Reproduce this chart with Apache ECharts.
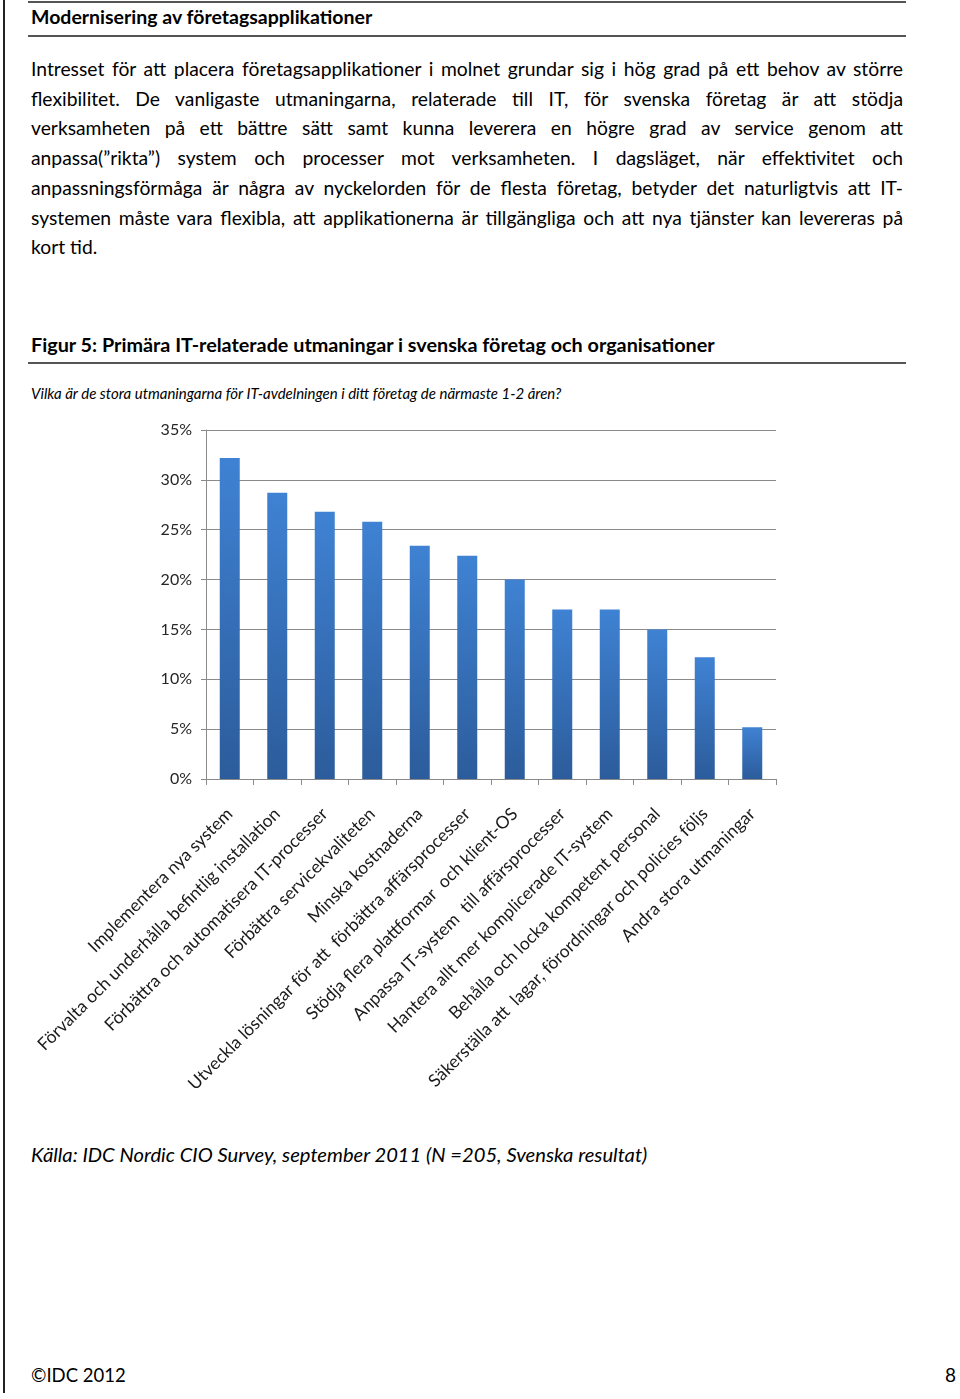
<!DOCTYPE html>
<html>
<head>
<meta charset="utf-8">
<script src="https://cdn.jsdelivr.net/npm/echarts@6/dist/echarts.min.js"></script>
<style>
  html, body { margin: 0; padding: 0; background: #fff; }
  body { width: 960px; height: 1399px; position: relative; overflow: hidden; font-family: Lato, "Open Sans", sans-serif; color: #000; }
  .abs { position: absolute; }
  .rule { position: absolute; left: 28px; width: 878px; height: 2px; background: #555; }
  .vline { position: absolute; left: 3px; top: 0; width: 2px; height: 1393px; background: #222; }
  .title { left: 31px; top: 4px; font-size: 19.5px; font-weight: bold; line-height: 26px; white-space: nowrap; }
  .para { left: 31px; top: 54px; width: 872px; font-size: 19.3px; line-height: 29.7px; }
  .para div { white-space: nowrap; text-align: justify; text-align-last: justify; }
  .para div.last { text-align-last: left; }
  .figtitle { left: 31px; top: 331px; font-size: 19.8px; font-weight: bold; line-height: 26px; white-space: nowrap; }
  .question { left: 31px; top: 383px; font-size: 15px; font-style: italic; line-height: 20px; white-space: nowrap; }
  .source { left: 31px; top: 1141px; font-size: 20.2px; font-style: italic; line-height: 26px; white-space: nowrap; }
  .footer { left: 31px; top: 1362px; font-size: 18.5px; line-height: 26px; white-space: nowrap; }
  .pagenum { left: 945px; top: 1362px; font-size: 19px; line-height: 26px; }
  #chart { position: absolute; left: 0; top: 400px; width: 960px; height: 720px; }
</style>
</head>
<body>
<div class="vline"></div>
<div class="rule" style="top:1px"></div>
<div class="abs title">Modernisering av företagsapplikationer</div>
<div class="rule" style="top:35px"></div>
<div class="abs para">
  <div>Intresset för att placera företagsapplikationer i molnet grundar sig i hög grad på ett behov av större</div>
  <div>flexibilitet. De vanligaste utmaningarna, relaterade till IT, för svenska företag är att stödja</div>
  <div>verksamheten på ett bättre sätt samt kunna leverera en högre grad av service genom att</div>
  <div>anpassa(”rikta”) system och processer mot verksamheten. I dagsläget, när effektivitet och</div>
  <div>anpassningsförmåga är några av nyckelorden för de flesta företag, betyder det naturligtvis att IT-</div>
  <div>systemen måste vara flexibla, att applikationerna är tillgängliga och att nya tjänster kan levereras på</div>
  <div class="last">kort tid.</div>
</div>
<div class="abs figtitle">Figur 5: Primära IT-relaterade utmaningar i svenska företag och organisationer</div>
<div class="rule" style="top:362px"></div>
<div class="abs question">Vilka är de stora utmaningarna för IT-avdelningen i ditt företag de närmaste 1-2 åren?</div>
<div id="chart"></div>
<div class="abs source">Källa: IDC Nordic CIO Survey, september 2011 (N =205, Svenska resultat)</div>
<div class="abs footer">©IDC 2012</div>
<div class="abs pagenum">8</div>
<script>
const categories = [
  "Implementera nya system",
  "Förvalta och underhålla befintlig installation",
  "Förbättra och automatisera IT-processer",
  "Förbättra servicekvaliteten",
  "Minska kostnaderna",
  "Utveckla lösningar för att  förbättra affärsprocesser",
  "Stödja flera plattformar  och klient-OS",
  "Anpassa IT-system  till affärsprocesser",
  "Hantera allt mer komplicerade IT-system",
  "Behålla och locka kompetent personal",
  "Säkerställa att  lagar, förordningar och policies följs",
  "Andra stora utmaningar"
];
const values = [32.2, 28.7, 26.8, 25.8, 23.4, 22.4, 20.0, 17.0, 17.0, 15.0, 12.2, 5.2];
const yTicks = { min: 0, max: 35, interval: 5 };

const chart = echarts.init(document.getElementById('chart'), null, { renderer: 'canvas' });
chart.setOption({
  animation: false,
  grid: { left: 206, right: 184, top: 30, bottom: 341, containLabel: false },
  xAxis: {
    type: 'category',
    data: categories,
    boundaryGap: true,
    axisLine: { show: true, lineStyle: { color: '#8a8a8a', width: 1 } },
    axisTick: { show: true, length: 6, lineStyle: { color: '#8a8a8a' } },
    axisLabel: {
      interval: 0, rotate: 45, margin: 32,
      fontFamily: 'Lato', fontSize: 17.5, color: '#1a1a1a'
    }
  },
  yAxis: {
    type: 'value',
    min: yTicks.min, max: yTicks.max, interval: yTicks.interval,
    axisLine: { show: true, lineStyle: { color: '#8a8a8a', width: 1 } },
    axisTick: { show: true, length: 5, lineStyle: { color: '#8a8a8a' } },
    splitLine: { show: true, lineStyle: { color: '#8a8a8a', width: 1 } },
    axisLabel: {
      formatter: '{value}%', margin: 14,
      fontFamily: 'Lato', fontSize: 16, color: '#262626'
    }
  },
  series: [{
    type: 'bar',
    data: values,
    barWidth: 20,
    itemStyle: {
      color: new echarts.graphic.LinearGradient(0, 0, 0, 1, [
        { offset: 0, color: '#3f82d3' },
        { offset: 1, color: '#2c5c9b' }
      ])
    }
  }]
});
</script>
</body>
</html>
